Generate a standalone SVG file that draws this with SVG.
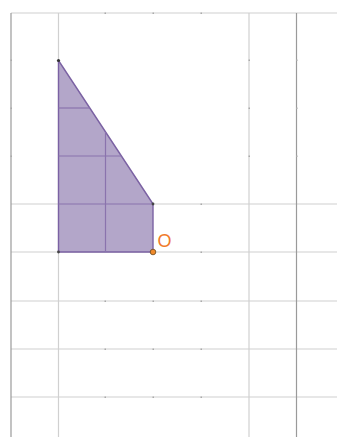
<svg xmlns="http://www.w3.org/2000/svg" width="337" height="437" viewBox="0 0 337 437">
<style>
.g{stroke:#d0d0d0;stroke-width:1.2;fill:none}
.gd{stroke:#9a9a9a;stroke-width:1.2;fill:none}
.tk{fill:#aaa}
.shape{fill:#b3a6c9;stroke:#7b62a3;stroke-width:1.4;stroke-linejoin:round}
.in{stroke:#8a73ad;stroke-width:1.2;fill:none}
.lbl{font-family:"Liberation Sans",Arial,sans-serif;font-size:18px;fill:#f07a2a}
</style>
<rect width="337" height="437" fill="#fff"/>
<g id="grid">
<line class="g" x1="11" y1="13" x2="337" y2="13"/>
<line class="g" x1="11" y1="204" x2="337" y2="204"/>
<line class="g" x1="11" y1="252" x2="337" y2="252"/>
<line class="g" x1="11" y1="301" x2="337" y2="301"/>
<line class="g" x1="11" y1="349" x2="337" y2="349"/>
<line class="g" x1="11" y1="397" x2="337" y2="397"/>
<line class="gd" x1="11" y1="13" x2="11" y2="437"/>
<line class="g" x1="58.5" y1="13" x2="58.5" y2="437"/>
<line class="g" x1="249" y1="13" x2="249" y2="437"/>
<line class="gd" x1="296.5" y1="13" x2="296.5" y2="437"/>
<g class="tk">
<rect x="104.5" y="12.5" width="1.5" height="1.5"/><rect x="152.5" y="12.5" width="1.5" height="1.5"/><rect x="200.5" y="12.5" width="1.5" height="1.5"/>
<rect x="104.5" y="203.5" width="1.5" height="1.5"/><rect x="200.5" y="203.5" width="1.5" height="1.5"/>
<rect x="104.5" y="300.5" width="1.5" height="1.5"/><rect x="152.5" y="300.5" width="1.5" height="1.5"/><rect x="200.5" y="300.5" width="1.5" height="1.5"/>
<rect x="104.5" y="348.5" width="1.5" height="1.5"/><rect x="152.5" y="348.5" width="1.5" height="1.5"/><rect x="200.5" y="348.5" width="1.5" height="1.5"/>
<rect x="104.5" y="396.5" width="1.5" height="1.5"/><rect x="152.5" y="396.5" width="1.5" height="1.5"/><rect x="200.5" y="396.5" width="1.5" height="1.5"/>
<rect x="200.5" y="251.5" width="1.5" height="1.5"/>
<rect x="10.5" y="59.5" width="1.5" height="1.5"/><rect x="10.5" y="107.5" width="1.5" height="1.5"/><rect x="10.5" y="155.5" width="1.5" height="1.5"/>
<rect x="248.5" y="59.5" width="1.5" height="1.5"/><rect x="248.5" y="107.5" width="1.5" height="1.5"/><rect x="248.5" y="155.5" width="1.5" height="1.5"/>
<rect x="296" y="59.5" width="1.5" height="1.5"/><rect x="296" y="107.5" width="1.5" height="1.5"/><rect x="296" y="155.5" width="1.5" height="1.5"/>
</g>
</g>
<g id="shape">
<polygon class="shape" points="58.5,60.5 153,204 153,252 58.5,252"/>
<line class="in" x1="58.5" y1="108" x2="89.8" y2="108"/>
<line class="in" x1="58.5" y1="156" x2="121.7" y2="156"/>
<line class="in" x1="58.5" y1="204" x2="153" y2="204"/>
<line class="in" x1="105.5" y1="131.9" x2="105.5" y2="252"/>
<circle cx="58.5" cy="60.5" r="1.6" fill="#333"/>
<circle cx="153" cy="204" r="1.4" fill="#444"/>
<circle cx="58.5" cy="252" r="1.4" fill="#444"/>
</g>
<g id="pointO">
<circle cx="153" cy="252" r="2.8" fill="#f08a2a" stroke="#6a4a20" stroke-width="0.8"/>
<text class="lbl" x="157.5" y="247">O</text>
</g>
</svg>
